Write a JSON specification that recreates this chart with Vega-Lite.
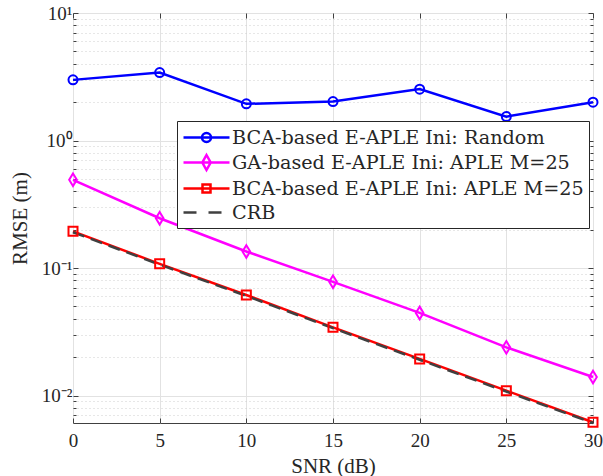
{
  "$schema": "https://vega.github.io/schema/vega-lite/v6.json",
  "width": 520,
  "height": 410,
  "autosize": {"type": "none"},
  "padding": {"left": 73, "top": 13, "right": 10, "bottom": 53},
  "background": "white",
  "config": {"view": {"stroke": "#404040", "strokeWidth": 1}, "font": "Times New Roman, Liberation Serif, serif"},
  "data": {
    "values": [
      {"snr": 0, "rmse": 2.99, "series": "BCA-based E-APLE Ini: Random"},
      {"snr": 5, "rmse": 3.41, "series": "BCA-based E-APLE Ini: Random"},
      {"snr": 10, "rmse": 1.94, "series": "BCA-based E-APLE Ini: Random"},
      {"snr": 15, "rmse": 2.02, "series": "BCA-based E-APLE Ini: Random"},
      {"snr": 20, "rmse": 2.53, "series": "BCA-based E-APLE Ini: Random"},
      {"snr": 25, "rmse": 1.54, "series": "BCA-based E-APLE Ini: Random"},
      {"snr": 30, "rmse": 2.0, "series": "BCA-based E-APLE Ini: Random"},
      {"snr": 0, "rmse": 0.492, "series": "GA-based E-APLE Ini: APLE M=25"},
      {"snr": 5, "rmse": 0.246, "series": "GA-based E-APLE Ini: APLE M=25"},
      {"snr": 10, "rmse": 0.135, "series": "GA-based E-APLE Ini: APLE M=25"},
      {"snr": 15, "rmse": 0.078, "series": "GA-based E-APLE Ini: APLE M=25"},
      {"snr": 20, "rmse": 0.0445, "series": "GA-based E-APLE Ini: APLE M=25"},
      {"snr": 25, "rmse": 0.0239, "series": "GA-based E-APLE Ini: APLE M=25"},
      {"snr": 30, "rmse": 0.014, "series": "GA-based E-APLE Ini: APLE M=25"},
      {"snr": 0, "rmse": 0.194, "series": "BCA-based E-APLE Ini: APLE M=25"},
      {"snr": 5, "rmse": 0.108, "series": "BCA-based E-APLE Ini: APLE M=25"},
      {"snr": 10, "rmse": 0.0615, "series": "BCA-based E-APLE Ini: APLE M=25"},
      {"snr": 15, "rmse": 0.0343, "series": "BCA-based E-APLE Ini: APLE M=25"},
      {"snr": 20, "rmse": 0.0194, "series": "BCA-based E-APLE Ini: APLE M=25"},
      {"snr": 25, "rmse": 0.01094, "series": "BCA-based E-APLE Ini: APLE M=25"},
      {"snr": 30, "rmse": 0.00618, "series": "BCA-based E-APLE Ini: APLE M=25"},
      {"snr": 0, "rmse": 0.191, "series": "CRB"},
      {"snr": 5, "rmse": 0.1065, "series": "CRB"},
      {"snr": 10, "rmse": 0.0605, "series": "CRB"},
      {"snr": 15, "rmse": 0.0338, "series": "CRB"},
      {"snr": 20, "rmse": 0.0191, "series": "CRB"},
      {"snr": 25, "rmse": 0.01075, "series": "CRB"},
      {"snr": 30, "rmse": 0.0061, "series": "CRB"}
    ]
  },
  "layer": [
    {
      "transform": [{"filter": "datum.series != 'CRB'"}],
      "mark": {"type": "line", "strokeWidth": 2.5},
      "encoding": {
        "x": {
          "field": "snr", "type": "quantitative",
          "scale": {"domain": [0, 30], "nice": false},
          "axis": {
            "orient": "bottom", "values": [0, 5, 10, 15, 20, 25, 30],
            "title": "SNR (dB)", "grid": true, "gridColor": "#e2e2e2",
            "domain": false, "tickSize": -5, "tickColor": "#404040",
            "labelFont": "Times New Roman, Liberation Serif, serif", "labelFontSize": 19, "labelColor": "#262626",
            "labelPadding": 13, "labelFlush": false,
            "titleFont": "Times New Roman, Liberation Serif, serif", "titleFontSize": 21, "titleFontWeight": "normal",
            "titleColor": "#262626", "titleBaseline": "alphabetic", "titleY": 49
          }
        },
        "y": {
          "field": "rmse", "type": "quantitative",
          "scale": {"type": "log", "domain": [0.0061, 10], "nice": false},
          "axis": {
            "orient": "left",
            "values": [0.007, 0.008, 0.009, 0.01, 0.02, 0.03, 0.04, 0.05, 0.06, 0.07, 0.08, 0.09, 0.1, 0.2, 0.3, 0.4, 0.5, 0.6, 0.7, 0.8, 0.9, 1, 2, 3, 4, 5, 6, 7, 8, 9, 10],
            "labelExpr": "datum.value == 10 ? '10¹' : datum.value == 1 ? '10⁰' : datum.value == 0.1 ? '10⁻¹' : datum.value == 0.01 ? '10⁻²' : ''",
            "grid": true,
            "gridColor": {"condition": {"test": "indexof([0.01, 0.1, 1, 10], datum.value) >= 0", "value": "#e2e2e2"}, "value": "#cfcfcf"},
            "gridDash": {"condition": {"test": "indexof([0.01, 0.1, 1, 10], datum.value) >= 0", "value": []}, "value": [1, 3]},
            "tickSize": {"condition": {"test": "indexof([0.01, 0.1, 1, 10], datum.value) >= 0", "value": -5}, "value": -3},
            "tickColor": "#404040", "domain": false,
            "labelFont": "Times New Roman, Liberation Serif, serif", "labelFontSize": 19, "labelColor": "#262626",
            "labelPadding": 6, "labelFlush": false, "labelOverlap": false,
            "title": "RMSE (m)",
            "titleFont": "Times New Roman, Liberation Serif, serif", "titleFontSize": 21, "titleFontWeight": "normal",
            "titleColor": "#262626", "titleBaseline": "alphabetic", "titleX": -47
          }
        },
        "color": {
          "field": "series", "type": "nominal",
          "scale": {
            "domain": ["BCA-based E-APLE Ini: Random", "GA-based E-APLE Ini: APLE M=25", "BCA-based E-APLE Ini: APLE M=25", "CRB"],
            "range": ["#0000ff", "#ff00ff", "#ff0000", "#404040"]
          },
          "legend": {
            "orient": "none", "legendX": 104, "legendY": 108,
            "title": null, "padding": 5, "rowPadding": 2,
            "symbolSize": 400, "symbolStrokeWidth": 2.5, "symbolFillColor": "transparent",
            "symbolType": {"expr": "datum.value == 'CRB' ? 'M-1,0H0.3M1.5,0H2.8' : datum.value == 'BCA-based E-APLE Ini: Random' ? 'M-1,0H3.6M0.85,0A0.45,0.45 0 1,0 1.75,0A0.45,0.45 0 1,0 0.85,0' : datum.value == 'GA-based E-APLE Ini: APLE M=25' ? 'M-1,0H3.6M1.3,-0.75L1.72,0L1.3,0.75L0.88,0Z' : 'M-1,0H3.6M0.9,-0.4H1.7V0.4H0.9Z'"},
            "labelOffset": 27, "labelFont": "DejaVu Serif", "labelFontSize": 19.2,
            "labelColor": "#262626", "labelLimit": 600,
            "fillColor": "white", "strokeColor": "#262626"
          }
        }
      }
    },
    {
      "transform": [{"filter": "datum.series == 'CRB'"}],
      "mark": {"type": "line", "strokeWidth": 2.5, "color": "#404040", "strokeDash": [12, 7]},
      "encoding": {
        "x": {
          "field": "snr", "type": "quantitative",
          "axis": {"orient": "top", "values": [0, 5, 10, 15, 20, 25, 30], "labels": false, "grid": false, "domain": false, "tickSize": -5, "tickColor": "#404040", "title": null}
        },
        "y": {
          "field": "rmse", "type": "quantitative",
          "axis": {
            "orient": "right",
            "values": [0.007, 0.008, 0.009, 0.01, 0.02, 0.03, 0.04, 0.05, 0.06, 0.07, 0.08, 0.09, 0.1, 0.2, 0.3, 0.4, 0.5, 0.6, 0.7, 0.8, 0.9, 1, 2, 3, 4, 5, 6, 7, 8, 9, 10],
            "labels": false, "grid": false, "domain": false, "title": null, "tickColor": "#404040",
            "tickSize": {"condition": {"test": "indexof([0.01, 0.1, 1, 10], datum.value) >= 0", "value": -5}, "value": -3}
          }
        }
      }
    },
    {
      "transform": [{"filter": "datum.series != 'CRB'"}],
      "mark": {"type": "point", "filled": false, "strokeWidth": 2, "size": 81, "opacity": 1},
      "encoding": {
        "x": {"field": "snr", "type": "quantitative", "axis": null},
        "y": {"field": "rmse", "type": "quantitative", "axis": null},
        "color": {"field": "series", "type": "nominal", "legend": null},
        "shape": {
          "field": "series", "type": "nominal",
          "scale": {
            "domain": ["BCA-based E-APLE Ini: Random", "GA-based E-APLE Ini: APLE M=25", "BCA-based E-APLE Ini: APLE M=25"],
            "range": ["circle", "M0,-1.4L0.85,0L0,1.4L-0.85,0Z", "square"]
          },
          "legend": null
        }
      }
    }
  ],
  "resolve": {"axis": {"x": "independent", "y": "independent"}}
}
